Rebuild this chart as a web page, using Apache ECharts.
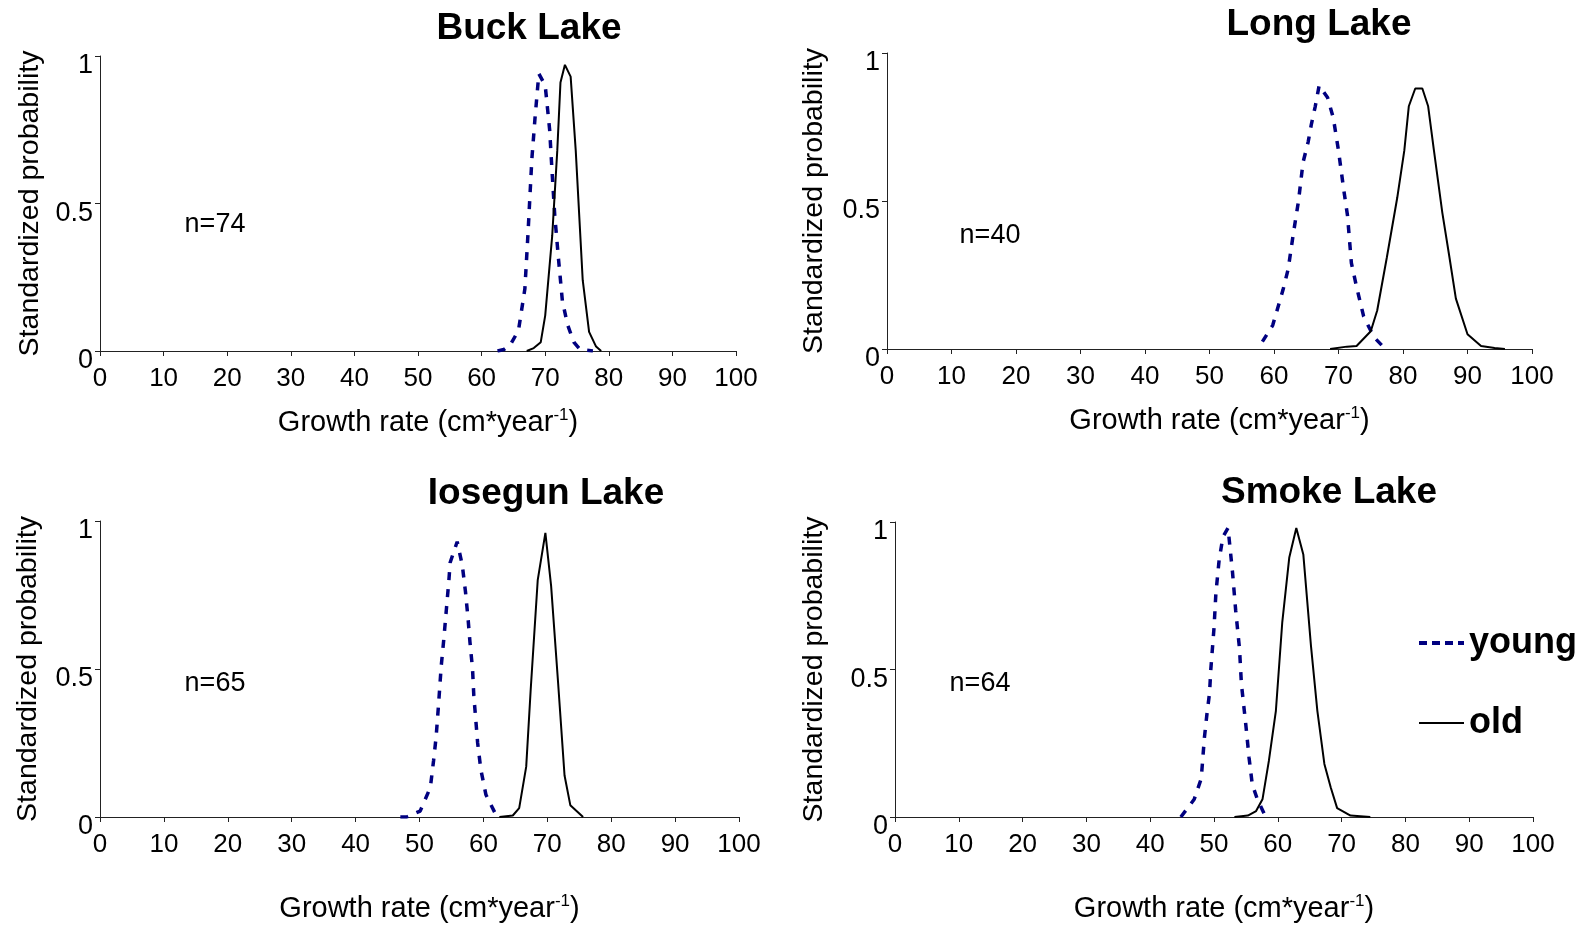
<!DOCTYPE html>
<html>
<head>
<meta charset="utf-8">
<title>Growth rate distributions</title>
<script src="https://cdn.jsdelivr.net/npm/echarts@6/dist/echarts.min.js"></script>
<style>
  html, body { margin: 0; padding: 0; background: #fff; }
  #chart { width: 1587px; height: 926px; }
</style>
</head>
<body>
<div id="chart"></div>
<script>
// panel names and sample sizes
const lakes = ["Buck Lake", "Long Lake", "Iosegun Lake", "Smoke Lake"];
const nLabels = ["n=74", "n=40", "n=65", "n=64"];
const xTicks = { min: 0, max: 100, interval: 10 };
const yTicks = { min: 0, max: 1, interval: 0.5 };

// [growth rate, standardized probability]
const buckYoung = [[62.5, 0], [63.5, 0.005], [64.5, 0.02], [65.8, 0.07], [66.8, 0.21], [67.3, 0.4], [67.9, 0.65], [68.4, 0.79], [69.0, 0.94], [70.0, 0.9], [70.7, 0.75], [71.1, 0.6], [71.5, 0.46], [72.1, 0.31], [72.7, 0.17], [73.5, 0.09], [74.5, 0.03], [75.5, 0.005], [77.5, 0]];
const buckOld = [[67.1, 0], [68.2, 0.01], [69.3, 0.03], [70.0, 0.12], [71.1, 0.39], [71.9, 0.68], [72.4, 0.91], [73.1, 0.97], [74.0, 0.93], [74.8, 0.68], [75.9, 0.24], [76.9, 0.065], [78.0, 0.015], [78.8, 0]];
const longYoung = [[58.2, 0.025], [59.8, 0.08], [61.4, 0.2], [62.2, 0.27], [63.0, 0.39], [63.8, 0.5], [64.5, 0.63], [65.3, 0.7], [65.8, 0.76], [66.4, 0.82], [67.0, 0.89], [68.3, 0.85], [69.2, 0.78], [70.0, 0.67], [70.8, 0.54], [71.4, 0.45], [72.0, 0.29], [72.8, 0.21], [73.9, 0.11], [75.5, 0.04], [76.7, 0.013]];
const longOld = [[68.7, 0], [71.3, 0.008], [72.8, 0.01], [75.0, 0.06], [76.0, 0.13], [77.5, 0.31], [79.1, 0.51], [80.2, 0.67], [80.9, 0.82], [81.9, 0.88], [83.0, 0.88], [83.9, 0.82], [84.8, 0.67], [86.1, 0.46], [87.2, 0.31], [88.2, 0.17], [90.0, 0.05], [92.1, 0.01], [94.2, 0.003], [95.8, 0]];
const iosYoung = [[47.0, 0], [48.0, 0], [50.1, 0.02], [51.7, 0.1], [52.2, 0.19], [52.6, 0.27], [53.0, 0.385], [53.4, 0.51], [53.8, 0.6], [54.2, 0.7], [54.6, 0.8], [54.8, 0.86], [55.9, 0.93], [56.7, 0.85], [57.2, 0.76], [57.6, 0.67], [57.9, 0.59], [58.3, 0.5], [58.5, 0.41], [59.1, 0.25], [59.6, 0.16], [60.4, 0.075], [61.9, 0.01], [62.5, 0]];
const iosOld = [[62.5, 0], [64.6, 0.005], [65.6, 0.03], [66.7, 0.17], [67.4, 0.43], [68.5, 0.8], [69.7, 0.96], [70.6, 0.78], [71.7, 0.45], [72.7, 0.14], [73.6, 0.04], [75.6, 0]];
const smokeYoung = [[44.8, 0], [46.9, 0.06], [48.0, 0.13], [48.5, 0.27], [48.9, 0.35], [49.3, 0.42], [49.5, 0.5], [50.0, 0.64], [50.3, 0.76], [50.8, 0.87], [51.4, 0.95], [52.2, 0.98], [52.9, 0.83], [53.4, 0.7], [54.0, 0.57], [54.3, 0.45], [55.0, 0.31], [55.5, 0.2], [56.0, 0.11], [56.8, 0.06], [57.9, 0.01], [58.3, 0]];
const smokeOld = [[53.2, 0], [55.3, 0.005], [56.6, 0.02], [57.6, 0.06], [58.6, 0.19], [59.7, 0.36], [60.7, 0.66], [61.8, 0.88], [62.9, 0.98], [64.0, 0.89], [65.2, 0.58], [66.2, 0.36], [67.3, 0.18], [68.3, 0.1], [69.3, 0.03], [71.4, 0.005], [74.5, 0]];

const youngSeries = [buckYoung, longYoung, iosYoung, smokeYoung];
const oldSeries = [buckOld, longOld, iosOld, smokeOld];

const FONT = "'Liberation Sans', Arial, sans-serif";

// layout of the four panels
const grids = [
  { left: 100, top: 56, width: 636, height: 295 },
  { left: 887, top: 53, width: 645, height: 296 },
  { left: 100, top: 521, width: 639, height: 296 },
  { left: 895, top: 522, width: 638, height: 295 }
];
const titlePos = [[524, 5], [1314, 1], [541, 470], [1324, 469]];
const nPos = [[215, 225], [990, 236], [215, 684], [980, 684]];
const xNameGap = [56, 56, 76, 76];
const yNameGap = [55, 58, 57, 66];

const axisLine = { show: true, lineStyle: { color: "#222", width: 1 } };
const axisTick = { show: true, length: 5, lineStyle: { color: "#222" } };

const option = {
  animation: false,
  textStyle: { fontFamily: FONT },
  title: lakes.map((name, i) => ({
    text: name,
    left: titlePos[i][0],
    top: titlePos[i][1],
    textAlign: "center",
    textStyle: { fontSize: 37, fontWeight: "bold", color: "#000", fontFamily: FONT }
  })),
  legend: {
    data: ["young", "old"],
    orient: "vertical",
    left: 1412,
    top: 620,
    itemWidth: 45,
    itemHeight: 14,
    itemGap: 44,
    selectedMode: false,
    itemStyle: { opacity: 0 },
    textStyle: { fontSize: 36, fontWeight: "bold", color: "#000", fontFamily: FONT }
  },
  grid: grids,
  xAxis: grids.map((g, i) => ({
    type: "value",
    gridIndex: i,
    min: xTicks.min,
    max: xTicks.max,
    interval: xTicks.interval,
    splitLine: { show: false },
    axisLine,
    axisTick,
    axisLabel: { fontSize: 26, color: "#000", margin: 15 },
    name: "{a|Growth rate (cm*year}{s|-1}{a|)}",
    nameLocation: "middle",
    nameGap: xNameGap[i],
    nameTextStyle: {
      padding: [0, 0, 0, 20],
      rich: {
        a: { fontSize: 29, color: "#000", lineHeight: 32, fontFamily: FONT },
        s: { fontSize: 17, color: "#000", lineHeight: 15, verticalAlign: "top", fontFamily: FONT }
      }
    }
  })),
  yAxis: grids.map((g, i) => ({
    type: "value",
    gridIndex: i,
    min: yTicks.min,
    max: yTicks.max,
    interval: yTicks.interval,
    splitLine: { show: false },
    axisLine,
    axisTick,
    axisLabel: { fontSize: 27, color: "#000", margin: 7, verticalAlign: "top", lineHeight: 20 },
    name: "Standardized probability",
    nameLocation: "middle",
    nameGap: yNameGap[i],
    nameTextStyle: { fontSize: 28.5, color: "#000" }
  })),
  graphic: nLabels.map((t, i) => ({
    type: "text",
    x: nPos[i][0],
    y: nPos[i][1],
    style: {
      text: t,
      fontSize: 27,
      fontFamily: FONT,
      fill: "#000",
      align: "center",
      verticalAlign: "middle"
    }
  })),
  series: []
};

for (let i = 0; i < 4; i++) {
  option.series.push({
    name: "young",
    type: "line",
    xAxisIndex: i,
    yAxisIndex: i,
    symbol: "none",
    data: youngSeries[i],
    lineStyle: { color: "#000080", width: 3.5, type: [8, 9] },
    itemStyle: { color: "#000080" }
  });
  option.series.push({
    name: "old",
    type: "line",
    xAxisIndex: i,
    yAxisIndex: i,
    symbol: "none",
    data: oldSeries[i],
    lineStyle: { color: "#000", width: 2 },
    itemStyle: { color: "#000" }
  });
}

// short dashes for the legend key, as in the original
option.legend.data = [
  { name: "young", lineStyle: { type: [8, 5], width: 4 } },
  { name: "old" }
];

const chart = echarts.init(document.getElementById("chart"));
chart.setOption(option);
</script>
</body>
</html>
